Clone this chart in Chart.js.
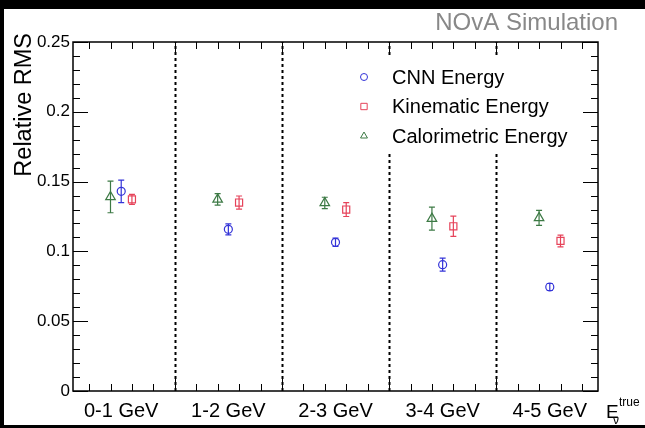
<!DOCTYPE html>
<html>
<head>
  <meta charset="UTF-8">
  <title>Relative RMS</title>
  <script src="https://cdn.jsdelivr.net/npm/chart.js@4.4.0/dist/chart.umd.min.js"></script>
  <style>
    html, body { margin: 0; padding: 0; background: #000; }
    canvas { display: block; }
  </style>
</head>
<body>
  <canvas id="rms-chart" width="645" height="428"></canvas>
  <script>
    var categories = ['0-1 GeV', '1-2 GeV', '2-3 GeV', '3-4 GeV', '4-5 GeV'];
    var yTickLabels = ['0', '0.05', '0.1', '0.15', '0.2', '0.25'];

    var cnnRms = [0.143, 0.1158, 0.1065, 0.0905, 0.0745];
    var cnnErr = [0.0081, 0.0039, 0.003, 0.0047, 0.0025];
    var kinRms = [0.1373, 0.135, 0.130, 0.118, 0.1075];
    var kinErr = [0.0036, 0.0047, 0.005, 0.0072, 0.0042];
    var calRms = [0.139, 0.1373, 0.1347, 0.1235, 0.124];
    var calErr = [0.0113, 0.0041, 0.0041, 0.0082, 0.0054];

    var FONT = "'Liberation Sans', Arial, Helvetica, sans-serif";

    function points(vals, shift) {
      return vals.map(function (v, i) { return { x: i + shift, y: v }; });
    }

    // black border round the white pad
    var padBackground = {
      id: 'padBackground',
      beforeDraw: function (chart) {
        var ctx = chart.ctx;
        ctx.save();
        ctx.fillStyle = '#000';
        ctx.fillRect(0, 0, chart.width, chart.height);
        ctx.fillStyle = '#fff';
        ctx.fillRect(4, 9, chart.width - 4, chart.height - 12);
        ctx.restore();
      }
    };

    // frame, tick marks and the dashed bin separators
    var frameTicks = {
      id: 'frameTicks',
      beforeDatasetsDraw: function (chart) {
        var ctx = chart.ctx, a = chart.chartArea;
        var xs = chart.scales.x, ys = chart.scales.y;
        ctx.save();
        ctx.strokeStyle = '#000';

        ctx.lineWidth = 2;
        ctx.setLineDash([3, 3]);
        for (var k = 1; k < categories.length; k++) {
          var px = Math.round(xs.getPixelForValue(k)) + 0.5;
          ctx.beginPath();
          ctx.moveTo(px, a.bottom);
          ctx.lineTo(px, a.top);
          ctx.stroke();
        }
        ctx.setLineDash([]);

        ctx.lineWidth = 1;
        ctx.beginPath();
        for (var t = 0; t <= 25; t++) {
          var py = Math.round(ys.getPixelForValue(t / 100)) + 0.5;
          var len = (t % 5 === 0) ? 15 : 7;
          ctx.moveTo(a.left, py); ctx.lineTo(a.left + len, py);
          ctx.moveTo(a.right, py); ctx.lineTo(a.right - len, py);
        }
        for (var s = 1; s < 25; s++) {
          var qx = Math.round(xs.getPixelForValue(s / 5)) + 0.5;
          var l2 = (s % 5 === 0) ? 13 : 7;
          ctx.moveTo(qx, a.bottom); ctx.lineTo(qx, a.bottom - l2);
          ctx.moveTo(qx, a.top); ctx.lineTo(qx, a.top + l2);
        }
        ctx.stroke();

        ctx.lineWidth = 1.5;
        ctx.strokeRect(a.left, a.top, a.right - a.left, a.bottom - a.top);

        // legend box is opaque and hides the separators behind it
        ctx.fillStyle = '#fff';
        ctx.fillRect(338, 58, 240, 94);
        ctx.restore();
      }
    };

    // vertical error bars with small caps
    var errorBars = {
      id: 'errorBars',
      beforeDatasetsDraw: function (chart) {
        var ctx = chart.ctx, ys = chart.scales.y;
        ctx.save();
        ctx.lineWidth = 1.2;
        chart.data.datasets.forEach(function (ds, d) {
          var meta = chart.getDatasetMeta(d);
          ctx.strokeStyle = ds.borderColor;
          ds.data.forEach(function (p, i) {
            var x = meta.data[i].x;
            var top = ys.getPixelForValue(p.y + ds.errors[i]);
            var bot = ys.getPixelForValue(p.y - ds.errors[i]);
            ctx.beginPath();
            ctx.moveTo(x, top); ctx.lineTo(x, bot);
            ctx.moveTo(x - 3, top); ctx.lineTo(x + 3, top);
            ctx.moveTo(x - 3, bot); ctx.lineTo(x + 3, bot);
            ctx.stroke();
          });
        });
        ctx.restore();
      }
    };

    // legend inside the frame, axis titles and the simulation tag
    var annotations = {
      id: 'annotations',
      afterDraw: function (chart) {
        var ctx = chart.ctx;
        ctx.save();

        ctx.font = '20px ' + FONT;
        ctx.textBaseline = 'middle';
        ctx.textAlign = 'left';
        chart.data.datasets.forEach(function (ds, d) {
          var y = 77 + d * 29.5;
          ctx.strokeStyle = ds.borderColor;
          ctx.fillStyle = 'rgba(0,0,0,0)';
          ctx.lineWidth = 1;
          Chart.helpers.drawPoint(ctx, {
            pointStyle: ds.pointStyle, rotation: 0,
            radius: ds.legendRadius, borderWidth: 1
          }, 364, y);
          ctx.fillStyle = '#000';
          ctx.fillText(ds.label, 392, y + 1);
        });

        ctx.fillStyle = '#888';
        ctx.font = '24px ' + FONT;
        ctx.textAlign = 'right';
        ctx.textBaseline = 'alphabetic';
        ctx.fillText('NOvA Simulation', 618, 30);

        ctx.fillStyle = '#000';
        ctx.save();
        ctx.translate(31, 33);
        ctx.rotate(-Math.PI / 2);
        ctx.font = '23.5px ' + FONT;
        ctx.textAlign = 'right';
        ctx.fillText('Relative RMS', 0, 0);
        ctx.restore();

        ctx.textAlign = 'left';
        ctx.font = '19px ' + FONT;
        ctx.fillText('E', 606, 418);
        ctx.font = '12px ' + FONT;
        ctx.fillText('true', 619, 406);
        ctx.fillText('\u03bd', 613, 424);
        ctx.restore();
      }
    };

    new Chart(document.getElementById('rms-chart'), {
      type: 'scatter',
      data: {
        datasets: [{
          label: 'CNN Energy',
          data: points(cnnRms, 0.5),
          errors: cnnErr,
          pointStyle: 'circle',
          pointRadius: 4,
          legendRadius: 3.5,
          borderColor: '#3434d8',
          backgroundColor: 'rgba(0,0,0,0)',
          borderWidth: 1.2
        }, {
          label: 'Kinematic Energy',
          data: points(kinRms, 0.6),
          errors: kinErr,
          pointStyle: 'rect',
          pointRadius: 5,
          legendRadius: 4.5,
          borderColor: '#e6435a',
          backgroundColor: 'rgba(0,0,0,0)',
          borderWidth: 1.2
        }, {
          label: 'Calorimetric Energy',
          data: points(calRms, 0.4),
          errors: calErr,
          pointStyle: 'triangle',
          pointRadius: 5.5,
          legendRadius: 4,
          borderColor: '#3d7a45',
          backgroundColor: 'rgba(0,0,0,0)',
          borderWidth: 1.2
        }]
      },
      options: {
        responsive: false,
        animation: false,
        devicePixelRatio: 1,
        layout: { padding: { top: 42, right: 47, bottom: 0, left: 0 } },
        plugins: { legend: { display: false }, tooltip: { enabled: false } },
        scales: {
          x: {
            type: 'linear',
            min: 0.05,
            max: 4.95,
            grid: { display: false, drawTicks: false },
            border: { display: false },
            afterBuildTicks: function (scale) {
              scale.ticks = categories.map(function (c, i) { return { value: i + 0.5 }; });
            },
            afterFit: function (scale) { scale.height = 37; },
            ticks: {
              autoSkip: false,
              maxRotation: 0,
              padding: 8,
              color: '#000',
              font: { family: FONT, size: 20 },
              callback: function (v, i) { return categories[i]; }
            }
          },
          y: {
            min: 0,
            max: 0.25,
            grid: { display: false, drawTicks: false },
            border: { display: false },
            afterBuildTicks: function (scale) {
              scale.ticks = yTickLabels.map(function (t) { return { value: parseFloat(t) }; });
            },
            afterFit: function (scale) { scale.width = 73; },
            ticks: {
              padding: 3,
              color: '#000',
              font: { family: FONT, size: 17 },
              callback: function (v, i) { return yTickLabels[i]; }
            }
          }
        }
      },
      plugins: [padBackground, frameTicks, errorBars, annotations]
    });
  </script>
</body>
</html>
